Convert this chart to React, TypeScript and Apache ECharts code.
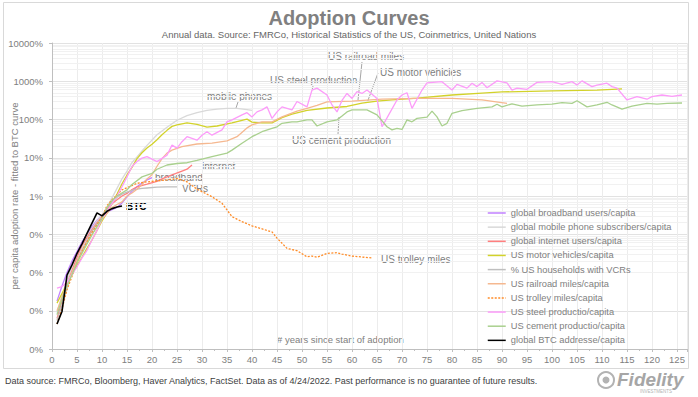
import React, { useEffect, useRef } from 'react';
import * as echarts from 'echarts';

type Pt = [number, number];

const seriesNames = [
  'global broadband users/capita',
  'global mobile phone subscribers/capita',
  'global internet users/capita',
  'US motor vehicles/capita',
  '% US households with VCRs',
  'US railroad miles/capita',
  'US trolley miles/capita',
  'US steel productio/capita',
  'US cement productio/capita',
  'global BTC addresse/capita',
];

const seriesColors = ['#c080ff', '#d9d9d9', '#ff7f7f', '#d2d22a', '#bfbfbf', '#f5b890', '#ff8c28', '#fc9cf9', '#a9d08e', '#000000'];

const yTickValues = [0.0001, 0.001, 0.01, 0.1, 1, 10, 100, 1000, 10000];
const xTickStep = 5;
const xMax = 127;

const broadband: Pt[] = [[1,0.00178],[2,0.00447],[3,0.01],[4,0.02],[5,0.0355],[6,0.063],[7,0.1],[8,0.158],[9,0.234],[10,0.316],[11,0.38],[12,0.437],[13,0.5],[14,0.66],[15,0.955],[16,1.32],[17,1.74],[18,2.19],[19,2.63],[20,3.02]];

const mobile: Pt[] = [[1,0.00089],[2,0.00251],[3,0.0063],[4,0.0141],[5,0.0282],[6,0.05],[7,0.0891],[8,0.141],[9,0.224],[10,0.316],[11,0.5],[12,0.891],[13,1.58],[14,2.82],[15,4.47],[16,7.5],[17,10.5],[18,15],[19,21],[21,39.8],[23,63],[25,95.5],[27,126],[29,151],[31,174],[33,186],[35,195],[37,195],[39,182],[40,174]];

const internet: Pt[] = [[1,0.00063],[2,0.00178],[3,0.005],[4,0.0112],[5,0.0251],[6,0.05],[7,0.0832],[8,0.132],[9,0.2],[10,0.282],[11,0.447],[12,0.631],[13,0.794],[14,1],[15,1.17],[16,1.48],[17,1.74],[19,2.04],[21,2.4],[22,2.82],[24,3.55],[26,4.47],[27,5.01],[28,6.46]];

const motorVehicles: Pt[] = [[1,0.00158],[2,0.00282],[3,0.005],[4,0.0089],[5,0.0151],[6,0.0251],[7,0.0427],[8,0.0708],[9,0.126],[10,0.224],[11,0.355],[12,0.631],[13,1.12],[14,2.09],[15,3.55],[16,5.62],[17,9.5],[18,13.5],[19,18],[20,22.5],[21,29.5],[22,39.8],[23,52],[24,66.1],[25,72.4],[27,81.3],[29,74.1],[31,63.1],[33,67.6],[36,81.3],[39,102],[40,85.1],[42,81.3],[44,81.3],[46,112],[48,138],[51,174],[55,200],[59,219],[62,269],[65,302],[68,324],[73,363],[80,437],[86,490],[90,525],[100,562],[109,589],[114,631]];

const vcrs: Pt[] = [[1,0.00056],[2,0.00141],[3,0.00398],[4,0.01],[5,0.02],[6,0.0398],[7,0.0708],[8,0.12],[9,0.19],[10,0.282],[11,0.479],[12,0.708],[13,0.933],[14,1.12],[15,1.26],[16,1.41],[17,1.51],[18,1.58],[19,1.62],[21,1.7],[23,1.74],[25,1.74]];

const railroad: Pt[] = [[1,0.001],[2,0.00224],[3,0.005],[4,0.01],[5,0.02],[6,0.0355],[7,0.063],[8,0.1],[9,0.158],[10,0.251],[11,0.355],[12,0.5],[13,0.6],[14,0.7],[15,1],[16,1.2],[17,1.5],[18,2],[19,2.8],[20,3.6],[21,6],[22,9.5],[23,13.2],[24,15.8],[26,19.5],[29,22.9],[32,24],[35,27.5],[37,35.5],[39,60.3],[40,72.4],[42,87.1],[44,87.1],[46,117],[49,166],[51,195],[53,234],[55,288],[60,302],[66,339],[73,355],[80,355],[86,324],[91,263]];

const trolley: Pt[] = [[1,0.00045],[2,0.00112],[3,0.00355],[4,0.00794],[5,0.0178],[6,0.0355],[7,0.063],[8,0.112],[9,0.178],[10,0.282],[11,0.562],[12,0.794],[14,1.45],[17,2.14],[19,2.34],[23,2.63],[25,2.88],[27,2.34],[29,1.51],[32,0.955],[34,0.646],[36,0.288],[38,0.214],[40,0.166],[44,0.115],[45,0.0794],[47,0.0427],[49,0.0372],[51,0.0257],[52,0.0269],[53,0.0251],[55,0.0316],[57,0.0331],[58,0.0302],[60,0.0269],[64,0.024]];

const steel: Pt[] = [[1,0.00389],[2,0.00427],[3,0.00562],[4,0.0089],[5,0.0141],[6,0.024],[7,0.038],[8,0.0708],[9,0.126],[10,0.251],[11,0.398],[12,0.631],[13,1],[14,1.74],[15,3.16],[16,5.89],[17,7.94],[18,9.77],[19,10.7],[21,7.94],[23,11.7],[24,21.4],[25,17.8],[26,26.3],[27,35.5],[29,28.8],[30,38.9],[31,47.9],[32,38.9],[34,53.7],[35,87.1],[36,97.7],[38,132],[39,151],[40,117],[41,158],[42,178],[43,214],[44,107],[45,158],[46,214],[48,178],[49,295],[51,214],[52,589],[53,661],[55,437],[56,240],[57,158],[58,316],[59,479],[60,355],[61,537],[62,479],[63,589],[65,355],[66,64.6],[67,110],[69,324],[70,437],[71,501],[72,195],[74,589],[75,912],[78,977],[80,589],[81,832],[83,661],[84,891],[85,724],[86,933],[87,676],[89,1023],[91,912],[92,589],[93,661],[95,617],[97,933],[100,977],[102,832],[104,977],[105,794],[106,1023],[108,724],[109,794],[111,891],[112,724],[113,661],[115,324],[117,398],[119,339],[120,398],[122,437],[124,400],[126,437]];

const cement: Pt[] = [[1,0.00079],[2,0.002],[3,0.00447],[4,0.0089],[5,0.0178],[6,0.0316],[7,0.0562],[8,0.0955],[9,0.158],[10,0.251],[11,0.5],[12,0.759],[13,1],[15,1.45],[16,2],[18,3.16],[20,3.89],[21,5.01],[23,6.46],[25,7.08],[27,7.41],[29,8.51],[32,10.7],[35,13.2],[36,15.8],[38,24],[40,35.5],[42,47.9],[44,58.9],[45,64.6],[46,79.4],[48,87.1],[49,87.1],[51,97.7],[52,97.7],[53,67.6],[55,87.1],[57,97.7],[58,123],[59,158],[60,178],[63,178],[65,132],[67,64.6],[68,53.7],[69,58.9],[70,55],[71,97.7],[72,87.1],[73,107],[75,115],[76,166],[77,117],[78,67.6],[79,79.4],[80,145],[82,170],[85,195],[88,214],[89,251],[90,214],[92,257],[94,224],[97,240],[100,251],[102,275],[104,263],[105,309],[107,214],[109,240],[111,282],[112,240],[114,186],[116,224],[119,263],[121,251],[123,263],[126,270]];

const btc: Pt[] = [[1,0.00045],[2,0.00096],[3,0.0085],[4,0.0158],[5,0.0316],[6,0.0562],[7,0.105],[8,0.195],[9,0.363],[10,0.302],[11,0.398],[12,0.468],[13,0.513],[14,0.55]];

const allData = [broadband, mobile, internet, motorVehicles, vcrs, railroad, trolley, steel, cement, btc];

const FONT = 'Liberation Sans, Arial, sans-serif';
const GREY = '#808080';

const minorGridValues: number[] = [];
for (let i = 0; i < yTickValues.length - 1; i++) {
  for (let m = 2; m <= 9; m++) minorGridValues.push(yTickValues[i] * m);
}

function txt(text: string, x: number, y: number, extra: any = {}) {
  return {
    type: 'text',
    x,
    y,
    silent: true,
    style: {
      text,
      fill: GREY,
      fontSize: 10,
      fontFamily: FONT,
      align: 'left',
      verticalAlign: 'middle',
      ...extra,
    },
  };
}

function ln(x1: number, y1: number, x2: number, y2: number) {
  return {
    type: 'line',
    silent: true,
    shape: { x1, y1, x2, y2 },
    style: { stroke: '#a6a6a6', lineWidth: 1 },
  };
}

export default function App() {
  const ref = useRef<HTMLDivElement>(null);

  useEffect(() => {
    if (!ref.current) return;
    const chart = echarts.init(ref.current, undefined, { renderer: 'svg' });

    const lineSeries: any[] = seriesNames.map((name, i) => ({
      type: 'line',
      name,
      data: allData[i],
      symbol: 'none',
      showSymbol: false,
      silent: true,
      lineStyle: {
        color: seriesColors[i],
        width: i === 9 ? 1.6 : 1.3,
        type: i === 6 ? [2, 1.5] : 'solid',
      },
      itemStyle: { color: seriesColors[i] },
      emphasis: { disabled: true },
    }));

    const gridSeries = {
      type: 'line',
      name: '_minor',
      data: [[0, 1]],
      symbol: 'none',
      silent: true,
      lineStyle: { opacity: 0 },
      markLine: {
        silent: true,
        symbol: ['none', 'none'],
        z: 0,
        label: { show: false },
        lineStyle: { color: '#f1f1f1', width: 1, type: 'solid' },
        emphasis: { disabled: true },
        data: minorGridValues.map((v) => ({ yAxis: v })),
      },
    };

    chart.setOption({
      animation: false,
      textStyle: { fontFamily: FONT },
      title: [
        {
          text: 'Adoption Curves',
          left: 'center',
          top: 8,
          padding: 0,
          textStyle: { fontSize: 20, fontWeight: 'bold', color: '#808080', fontFamily: FONT },
        },
        {
          text: 'Annual data. Source: FMRCo, Historical Statistics of the US, Coinmetrics, United Nations',
          left: 'center',
          top: 29,
          padding: 0,
          textStyle: { fontSize: 9.5, fontWeight: 'normal', color: '#666666', fontFamily: FONT },
        },
      ],
      grid: { left: 52, right: 11, top: 43, bottom: 48, containLabel: false, outerBoundsMode: 'none' },
      legend: {
        orient: 'vertical',
        left: 487,
        top: 208,
        padding: 0,
        itemWidth: 18,
        itemHeight: 10,
        itemGap: 4.15,
        selectedMode: false,
        data: seriesNames,
        itemStyle: { opacity: 0 },
        lineStyle: { width: 1.5 },
        textStyle: { fontSize: 9.3, color: GREY, lineHeight: 10, fontFamily: FONT },
      },
      xAxis: {
        type: 'value',
        min: 0,
        max: xMax,
        interval: xTickStep,
        axisLine: { show: true, lineStyle: { color: '#bfbfbf' } },
        axisTick: { show: true, length: 3, lineStyle: { color: '#bfbfbf' } },
        minorTick: { show: true, splitNumber: 2, length: 2, lineStyle: { color: '#bfbfbf' } },
        axisLabel: { color: GREY, fontSize: 9.5, margin: 5, fontFamily: FONT, showMaxLabel: false },
        splitLine: { show: true, lineStyle: { color: '#ececec', width: 1 } },
      },
      yAxis: {
        type: 'log',
        logBase: 10,
        min: 0.0001,
        max: 10000,
        splitNumber: 8,
        name: 'per capita adoption rate - fitted to BTC curve',
        nameLocation: 'middle',
        nameGap: 33,
        nameRotate: 90,
        nameMoveOverlap: false,
        nameTextStyle: { color: GREY, fontSize: 9.5, fontFamily: FONT },
        axisLine: { show: true, lineStyle: { color: '#bfbfbf' } },
        axisTick: { show: true, length: 3, lineStyle: { color: '#bfbfbf' } },
        axisLabel: {
          color: GREY,
          fontSize: 9.5,
          margin: 9,
          fontFamily: FONT,
          formatter: (v: number) => Math.round(v) + '%',
        },
        splitLine: { show: true, lineStyle: { color: '#e2e2e2', width: 1 } },
      },
      series: [gridSeries, ...lineSeries],
      graphic: [
        {
          type: 'rect',
          silent: true,
          shape: { x: 3.5, y: 2.5, width: 685, height: 366 },
          style: { fill: 'none', stroke: '#d9d9d9', lineWidth: 1 },
        },
        txt('mobile phones', 207, 96),
        ln(238, 102, 236, 108),
        txt('US steel production', 270, 80),
        ln(313, 86, 312, 90),
        txt('US railroad miles', 328, 56),
        ln(362, 62, 358, 100),
        txt('US motor vehicles', 380, 72),
        ln(378, 73, 367, 103),
        txt('US cement production', 292, 140),
        ln(339, 117, 338, 134),
        txt('internet', 202, 166),
        txt('broadband', 155, 177),
        txt('VCRs', 182, 188),
        txt('BTC', 126, 206, { fill: '#000000', fontWeight: 'bold' }),
        txt('US trolley miles', 381, 259),
        txt('# years since start of adoption', 277, 339, { fontSize: 9.5 }),
        txt(
          'Data source: FMRCo, Bloomberg, Haver Analytics, FactSet. Data as of 4/24/2022. Past performance is no guarantee of future results.',
          5,
          381,
          { fontSize: 9, fill: '#404040' }
        ),
        {
          type: 'circle',
          silent: true,
          shape: { cx: 606, cy: 380, r: 8 },
          style: { fill: 'none', stroke: '#b3b3b3', lineWidth: 2 },
        },
        {
          type: 'circle',
          silent: true,
          shape: { cx: 606, cy: 380, r: 3.5 },
          style: { fill: '#b3b3b3' },
        },
        txt('Fidelity', 617, 379, { fontSize: 19, fontWeight: 'bold', fontStyle: 'italic', fill: '#a6a6a6' }),
        txt('INVESTMENTS', 640, 391, { fontSize: 4.5, fill: '#b3b3b3' }),
      ],
    });

    return () => chart.dispose();
  }, []);

  return (
    <div
      ref={ref}
      style={{ position: 'absolute', left: 0, top: 0, width: 698, height: 397 }}
    />
  );
}
